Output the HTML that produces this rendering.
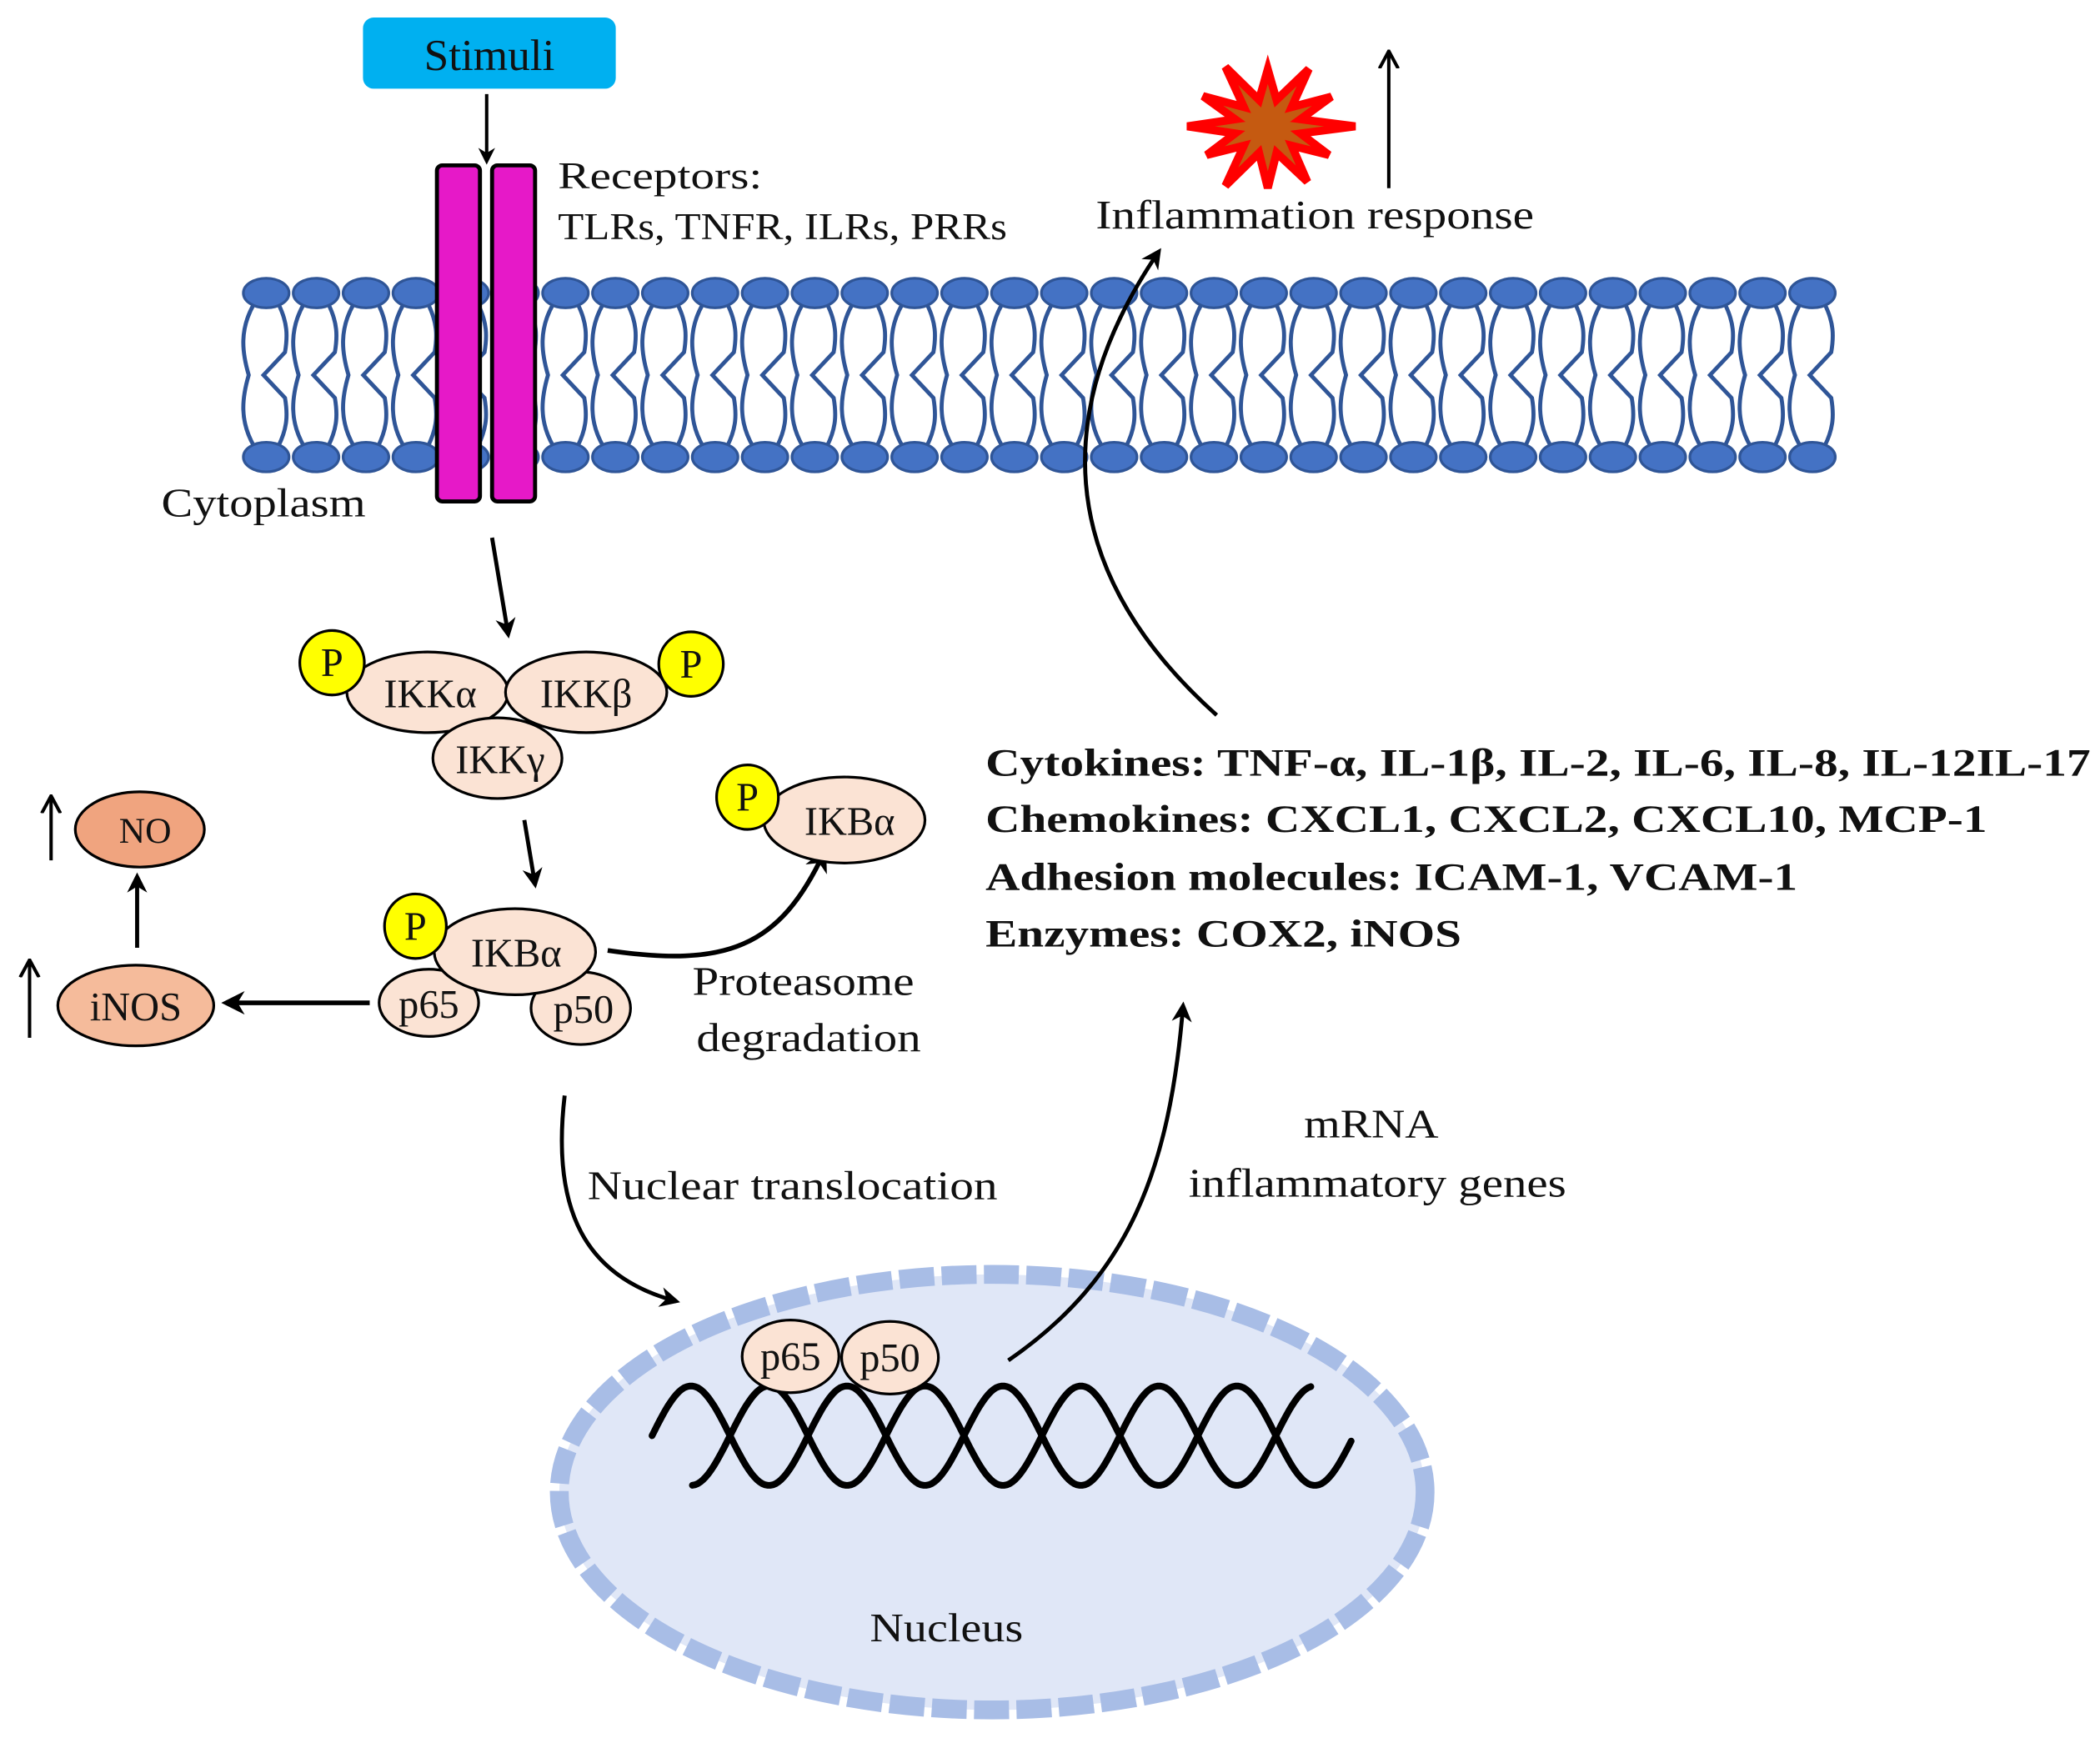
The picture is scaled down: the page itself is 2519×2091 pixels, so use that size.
<!DOCTYPE html>
<html><head><meta charset="utf-8"><style>
html,body{margin:0;padding:0;background:#fff}
svg{display:block}
text{font-family:"Liberation Serif",serif;fill:#111}
</style></head><body>
<svg id="s" width="2519" height="2091" viewBox="0 0 1562 1296.6" preserveAspectRatio="none" xmlns="http://www.w3.org/2000/svg">
<defs>
<marker id="ah" viewBox="0 0 10 10" refX="8" refY="5" markerWidth="5" markerHeight="5" orient="auto"><path d="M0,0 L10,5 L0,10 L3,5 z" fill="#000"/></marker>
<marker id="oh" viewBox="0 0 14 16" refX="13" refY="8" markerWidth="14" markerHeight="16" orient="auto" markerUnits="userSpaceOnUse"><path d="M0,1 L13,8 L0,15" fill="none" stroke="#000" stroke-width="2.5"/></marker>
</defs>
<rect width="1562" height="1297" fill="#fff"/>
<g id="mem"></g>
<rect x="325" y="123" width="32" height="250" rx="4" fill="#e619c8" stroke="#000" stroke-width="3"/>
<rect x="366" y="123" width="32" height="250" rx="4" fill="#e619c8" stroke="#000" stroke-width="3"/>
<rect x="270" y="13" width="188" height="53" rx="8" fill="#00b0f0"/>
<text x="364" y="52" font-size="33" text-anchor="middle">Stimuli</text>
<line x1="362" y1="70" x2="362" y2="120" stroke="#000" stroke-width="2.5" marker-end="url(#ah)"/>
<text x="415" y="140" font-size="28" textLength="152" lengthAdjust="spacingAndGlyphs">Receptors:</text>
<text x="415" y="178" font-size="28" textLength="334" lengthAdjust="spacingAndGlyphs">TLRs, TNFR, ILRs, PRRs</text>
<text x="120" y="384" font-size="30" textLength="152" lengthAdjust="spacingAndGlyphs">Cytoplasm</text>
<polygon id="star" fill="#c55a11" stroke="#ff0000" stroke-width="6" stroke-linejoin="miter"/>
<line x1="1033" y1="140" x2="1033" y2="38" stroke="#000" stroke-width="2.5" marker-end="url(#oh)"/>
<text x="815" y="170" font-size="30" textLength="326" lengthAdjust="spacingAndGlyphs">Inflammation response</text>
<line x1="366" y1="400" x2="378" y2="472" stroke="#000" stroke-width="3" marker-end="url(#ah)"/>
<line x1="390" y1="610" x2="398" y2="658" stroke="#000" stroke-width="3" marker-end="url(#ah)"/>
<path d="M452,707 C540,720 580,705 613,634" fill="none" stroke="#000" stroke-width="3.5" marker-end="url(#ah)"/>
<line x1="275" y1="746" x2="168" y2="746" stroke="#000" stroke-width="3.5" marker-end="url(#ah)"/>
<line x1="102" y1="705" x2="102" y2="652" stroke="#000" stroke-width="3" marker-end="url(#ah)"/>
<line x1="38" y1="640" x2="38" y2="592" stroke="#000" stroke-width="2.5" marker-end="url(#oh)"/>
<line x1="22" y1="772" x2="22" y2="714" stroke="#000" stroke-width="2.5" marker-end="url(#oh)"/>
<path d="M420,815 C410,900 435,950 503,968" fill="none" stroke="#000" stroke-width="3" marker-end="url(#ah)"/>
<path d="M905,532 C780,420 785,300 862,187" fill="none" stroke="#000" stroke-width="3" marker-end="url(#ah)"/>
<g stroke="#000" stroke-width="2">
<ellipse cx="318" cy="515" rx="60" ry="30" fill="#fbe3d4"/>
<ellipse cx="436" cy="515" rx="60" ry="30" fill="#fbe3d4"/>
<ellipse cx="370" cy="564" rx="48" ry="30" fill="#fbe3d4"/>
<ellipse cx="247" cy="493" rx="24" ry="24" fill="#ffff00"/>
<ellipse cx="514" cy="494" rx="24" ry="24" fill="#ffff00"/>
<ellipse cx="628" cy="610" rx="60" ry="32" fill="#fbe3d4"/>
<ellipse cx="556" cy="593" rx="23" ry="24" fill="#ffff00"/>
<ellipse cx="319" cy="746" rx="37" ry="25" fill="#fbe3d4"/>
<ellipse cx="432" cy="750" rx="37" ry="27" fill="#fbe3d4"/>
<ellipse cx="383" cy="708" rx="60" ry="32" fill="#fbe3d4"/>
<ellipse cx="309" cy="689" rx="23" ry="24" fill="#ffff00"/>
<ellipse cx="104" cy="617" rx="48" ry="28" fill="#f0a47f"/>
<ellipse cx="101" cy="748" rx="58" ry="30" fill="#f5bb9b"/>
</g>
<g font-size="30" text-anchor="middle">
<text x="247" y="503">P</text><text x="514" y="504">P</text><text x="556" y="603">P</text><text x="309" y="699">P</text>
<text x="320" y="526">IKKα</text><text x="436" y="526">IKKβ</text><text x="372" y="575">IKKγ</text>
<text x="632" y="621">IKBα</text><text x="384" y="719">IKBα</text>
<text x="319" y="757">p65</text><text x="434" y="761">p50</text>
<text x="108" y="627" font-size="27">NO</text><text x="101" y="759">iNOS</text>
</g>
<text x="515" y="740" font-size="30" textLength="165" lengthAdjust="spacingAndGlyphs">Proteasome</text>
<text x="518" y="782" font-size="30" textLength="167" lengthAdjust="spacingAndGlyphs">degradation</text>
<text x="437" y="892" font-size="30" textLength="305" lengthAdjust="spacingAndGlyphs">Nuclear translocation</text>
<text x="970" y="846" font-size="30" textLength="100" lengthAdjust="spacingAndGlyphs">mRNA</text>
<text x="884" y="890" font-size="30" textLength="281" lengthAdjust="spacingAndGlyphs">inflammatory genes</text>
<g font-size="29" font-weight="bold">
<text x="733" y="577" textLength="822" lengthAdjust="spacingAndGlyphs">Cytokines: TNF-α, IL-1β, IL-2, IL-6, IL-8, IL-12IL-17</text>
<text x="733" y="619" textLength="745" lengthAdjust="spacingAndGlyphs">Chemokines: CXCL1, CXCL2, CXCL10, MCP-1</text>
<text x="733" y="662" textLength="604" lengthAdjust="spacingAndGlyphs">Adhesion molecules: ICAM-1, VCAM-1</text>
<text x="733" y="704" textLength="354" lengthAdjust="spacingAndGlyphs">Enzymes: COX2, iNOS</text>
</g>
<ellipse cx="738" cy="1110" rx="322" ry="162" fill="#e0e7f7"/>
<ellipse cx="738" cy="1110" rx="322" ry="162" fill="none" stroke="#a8bde6" stroke-width="14" stroke-dasharray="26 5.5"/>
<g id="dna"></g>
<g stroke="#000" stroke-width="2"><ellipse cx="588" cy="1009" rx="36" ry="27" fill="#fbe3d4"/><ellipse cx="662" cy="1010" rx="36" ry="27" fill="#fbe3d4"/></g>
<g font-size="30" text-anchor="middle"><text x="588" y="1019">p65</text><text x="662" y="1020">p50</text></g>
<path d="M750,1012 C840,950 870,870 880,748" fill="none" stroke="#000" stroke-width="3" marker-end="url(#ah)"/>
<text x="647" y="1221" font-size="30" textLength="114" lengthAdjust="spacingAndGlyphs">Nucleus</text>
</svg>
<script>
(function(){
var NS="http://www.w3.org/2000/svg";
function el(t,a,p){var e=document.createElementNS(NS,t);for(var k in a)e.setAttribute(k,a[k]);p.appendChild(e);return e;}
var mem=document.getElementById("mem");
for(var i=0;i<32;i++){
 var x=198+i*37.1;
 var c="#2f5597";
 el("path",{d:"M"+(x-9)+",226 C"+(x-20)+",245 "+(x-18)+",262 "+(x-13)+",279 C"+(x-18)+",296 "+(x-20)+",313 "+(x-9)+",332",fill:"none",stroke:c,"stroke-width":3},mem);
 el("path",{d:"M"+(x+9)+",226 C"+(x+16)+",240 "+(x+16)+",250 "+(x+14)+",262 L"+(x-2)+",279 L"+(x+14)+",296 C"+(x+16)+",308 "+(x+16)+",318 "+(x+9)+",332",fill:"none",stroke:c,"stroke-width":3},mem);
 el("ellipse",{cx:x,cy:218,rx:17,ry:11,fill:"#4472c4",stroke:c,"stroke-width":2},mem);
 el("ellipse",{cx:x,cy:340,rx:17,ry:11,fill:"#4472c4",stroke:c,"stroke-width":2},mem);
}
var st=document.getElementById("star"),pts=[],n=12;
var outer=[50,58,52,62,50,56,54,60,50,57,53,60];
for(var k=0;k<2*n;k++){var a=k*Math.PI/n-Math.PI/2,r=(k%2?24:outer[k/2]);pts.push((943+r*Math.cos(a)*1.05).toFixed(1)+","+(94+r*Math.sin(a)*0.85).toFixed(1));}
st.setAttribute("points",pts.join(" "));
var dna=document.getElementById("dna");
[0,58].forEach(function(off,j){
 var p=[],x0=j?515:485,x1=j?1005:975;
 for(var x=x0;x<=x1;x+=2){var y=1068-37*Math.sin(2*Math.PI*(x-485-off)/116);p.push(x+","+y.toFixed(1));}
 el("polyline",{points:p.join(" "),fill:"none",stroke:"#000","stroke-width":5,"stroke-linecap":"round"},dna);
});
})();
</script>
</body></html>
